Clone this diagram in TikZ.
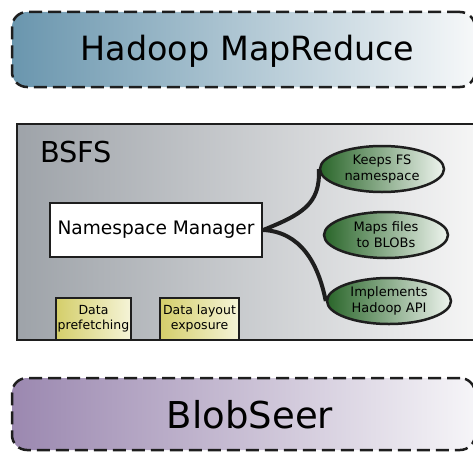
\documentclass[tikz,border=0pt]{standalone}
\usepackage{fontspec}
\setmainfont{DejaVu Sans}
\usetikzlibrary{shapes.geometric}
\definecolor{hblue}{HTML}{6A96AE}
\definecolor{hwhite}{HTML}{F6F8F9}
\definecolor{bgray}{HTML}{9EA3A9}
\definecolor{bwhite}{HTML}{F6F6F6}
\definecolor{egreen}{HTML}{2A662A}
\definecolor{emid}{HTML}{7FA47F}
\definecolor{ewhite}{HTML}{EEF4EE}
\definecolor{yel}{HTML}{D4CE6A}
\definecolor{yelw}{HTML}{F5F4D8}
\definecolor{purp}{HTML}{9B88B0}
\definecolor{purpw}{HTML}{F6F5F8}
\definecolor{edge}{HTML}{1E1E1E}
\tikzset{
  layerbox/.style={draw=edge, line width=2.5pt, dashed, dash pattern=on 13pt off 6pt, rounded corners=15pt, inner sep=0pt},
  bsfsbox/.style={draw=edge, line width=2.5pt, inner sep=0pt, left color=bgray, right color=bwhite},
  nmbox/.style={draw=edge, line width=2.5pt, fill=white, inner sep=0pt, minimum width=212pt, minimum height=54pt, font=\fontsize{18.6}{22}\selectfont},
  feat/.style={ellipse, draw=edge, line width=2.5pt, left color=egreen, middle color=emid, right color=ewhite, inner sep=0pt, minimum width=124pt, minimum height=46pt, align=center, font=\fontsize{13}{16}\selectfont},
  smallbox/.style={draw=edge, line width=2.5pt, left color=yel, right color=yelw, inner sep=0pt, minimum height=42pt, align=center, font=\fontsize{12.5}{15}\selectfont},
  conn/.style={draw=edge, line width=4pt}
}
\begin{document}
\begin{tikzpicture}[x=1pt,y=-1pt]
\useasboundingbox (0,0) rectangle (473,452);
\clip (0,0) rectangle (473,452);
% Hadoop MapReduce
\node[layerbox, left color=hblue, right color=hwhite, minimum width=463pt, minimum height=75pt] (mr) at (243.5,49.5) {};
\node[anchor=base, inner sep=0pt, font=\fontsize{33.4}{40}\selectfont] (mrt) at (247.5,60) {Hadoop MapReduce};
% BSFS
\node[bsfsbox, minimum width=463pt, minimum height=216pt] (bsfs) at (248.5,232) {};
\node[anchor=base west, inner sep=0pt, font=\fontsize{28.8}{34}\selectfont] (bsfst) at (40,162) {BSFS};
\node[nmbox] (nm) at (156,230) {Namespace Manager};
\node[feat] (e1) at (382,169) {Keeps FS\\namespace};
\node[feat] (e2) at (386,235) {Maps files\\to BLOBs};
\node[feat] (e3) at (389,301) {Implements\\Hadoop API};
\node[smallbox, minimum width=75pt] (dp) at (93.5,319) {Data\\prefetching};
\node[smallbox, minimum width=79pt] (dl) at (199.5,319) {Data layout\\exposure};
\draw[conn] (nm.east) .. controls (300,215) and (321,205) .. (e1.west);
\draw[conn] (nm.east) .. controls (300,232) and (318,262) .. (e3.west);
% BlobSeer
\node[layerbox, left color=purp, right color=purpw, minimum width=463pt, minimum height=72pt] (bs) at (243.5,414) {};
\node[anchor=base, inner sep=0pt, font=\fontsize{37}{44}\selectfont] (bst) at (250,428) {BlobSeer};
\end{tikzpicture}
\end{document}
